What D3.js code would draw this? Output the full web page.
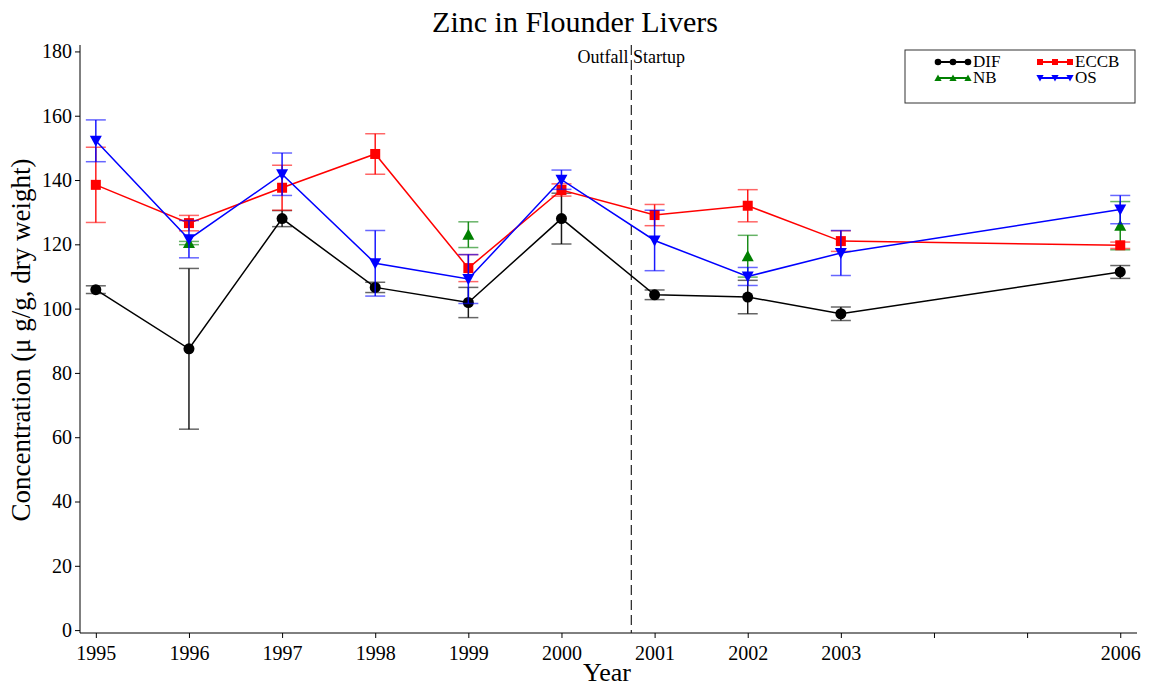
<!DOCTYPE html>
<html><head><meta charset="utf-8">
<script src="https://cdn.jsdelivr.net/npm/d3@7"></script>
<style>body{margin:0;background:#fff}svg{display:block}text{font-family:"Liberation Serif","Times New Roman",serif}</style>
</head><body>
<svg id="c" width="1151" height="688"></svg>
<script>
const years = [1995,1996,1997,1998,1999,2000,2001,2002,2003,2006];
const tickYears = [1995,1996,1997,1998,1999,2000,2001,2002,2003,2004,2005,2006];
const labelYears = [1995,1996,1997,1998,1999,2000,2001,2002,2003,2006];
const yTicks = [0,20,40,60,80,100,120,140,160,180];
const difVal = [105.9,87.5,128,106.6,101.9,128,104.3,103.6,98.4,111.4];
const difErr = [1.2,25,2.5,1.6,4.7,7.9,1.5,5.2,2.1,2];
const eccbVal = [138.5,126.6,137.6,148.1,112.6,136.9,129.1,132,121,119.7];
const eccbErr = [11.7,2.4,7,6.3,4.2,1.9,3.3,5,3.2,1];
const osVal = [152.2,121.6,141.8,114.1,109.2,140.1,121.2,110,117.3,130.8];
const osErr = [6.5,5.8,6.6,10.2,7.6,3,9.4,2.8,7,4.4];
const nbYears = [1996,1999,2002,2006];
const nbVal = [120.4,123,116.3,125.8];
const nbErr = [0.5,4,6.5,7.5];
const outfallYear = 2000.75;

const svg = d3.select("#c");
const x = d3.scaleLinear().domain([1994.83,2006.18]).range([80,1137]);
const y = d3.scaleLinear().domain([-0.9,182]).range([633,45]);

svg.append("text").attr("x",575).attr("y",32).attr("text-anchor","middle").attr("font-size",30).text("Zinc in Flounder Livers");

const xa = svg.append("g").attr("transform","translate(0,633)")
  .call(d3.axisBottom(x).tickValues(tickYears).tickSize(5).tickFormat(d=>labelYears.includes(d)?d:""));
const ya = svg.append("g").attr("transform","translate(80,0)")
  .call(d3.axisLeft(y).tickValues(yTicks).tickSize(5));
[xa,ya].forEach(a=>{a.selectAll("text").attr("font-size",20).attr("font-family","Liberation Serif").attr("fill","#000");
  a.selectAll("path,line").attr("stroke","#000");});
xa.selectAll("text").attr("dy","0.95em");
ya.select(".domain").attr("d","M0,45V633");
xa.select(".domain").attr("d","M80,0H1137");

svg.append("text").attr("x",607).attr("y",681).attr("text-anchor","middle").attr("font-size",26).text("Year");
svg.append("text").attr("transform","translate(30,340) rotate(-90)").attr("text-anchor","middle").attr("font-size",27).text("Concentration (μ g/g, dry weight)");

svg.append("line").attr("x1",x(outfallYear)).attr("x2",x(outfallYear)).attr("y1",45).attr("y2",633)
  .attr("stroke","#222").attr("stroke-dasharray","10,5").attr("stroke-width",1.2);
svg.append("text").attr("x",x(outfallYear)).attr("y",63).attr("text-anchor","middle").attr("font-size",18).text("Outfall Startup");

function series(xs, vals, errs, color, shape, line){
  const g = svg.append("g");
  const eg = g.append("g").attr("stroke",color).attr("stroke-opacity",0.6).attr("stroke-width",1.5);
  xs.forEach((yr,i)=>{
    const cx=x(yr), t=y(vals[i]+errs[i]), b=y(vals[i]-errs[i]);
    eg.append("line").attr("x1",cx).attr("x2",cx).attr("y1",t).attr("y2",b).attr("stroke-opacity",0.9);
    eg.append("line").attr("x1",cx-10).attr("x2",cx+10).attr("y1",t).attr("y2",t);
    eg.append("line").attr("x1",cx-10).attr("x2",cx+10).attr("y1",b).attr("y2",b);
  });
  if(line){
    g.append("path").datum(xs.map((yr,i)=>[yr,vals[i]]))
      .attr("d",d3.line().x(d=>x(d[0])).y(d=>y(d[1])))
      .attr("fill","none").attr("stroke",color).attr("stroke-width",1.5);
  }
  xs.forEach((yr,i)=>drawMarker(g,x(yr),y(vals[i]),color,shape));
}
function drawMarker(g,cx,cy,color,shape,s){
  s = s||1;
  if(shape==="circle") g.append("circle").attr("cx",cx).attr("cy",cy).attr("r",5.5*s).attr("fill",color);
  else if(shape==="square") g.append("rect").attr("x",cx-5*s).attr("y",cy-5*s).attr("width",10*s).attr("height",10*s).attr("fill",color);
  else if(shape==="up") g.append("path").attr("d",`M${cx},${cy-6*s}L${cx+6*s},${cy+5*s}L${cx-6*s},${cy+5*s}Z`).attr("fill",color);
  else if(shape==="down") g.append("path").attr("d",`M${cx},${cy+6*s}L${cx+6*s},${cy-5*s}L${cx-6*s},${cy-5*s}Z`).attr("fill",color);
}
series(years,difVal,difErr,"#000","circle",true);
series(nbYears,nbVal,nbErr,"#008000","up",false);
series(years,eccbVal,eccbErr,"#ff0000","square",true);
series(years,osVal,osErr,"#0000ff","down",true);

// legend
const lg = svg.append("g");
lg.append("rect").attr("x",905).attr("y",50).attr("width",230).attr("height",53).attr("fill","#fff").attr("stroke","#333").attr("stroke-width",1);
const legend = [["DIF","#000","circle",938,62],["ECCB","#ff0000","square",1040,62],["NB","#008000","up",938,78],["OS","#0000ff","down",1040,78]];
legend.forEach(([name,col,shape,lx,ly])=>{
  lg.append("line").attr("x1",lx).attr("x2",lx+30).attr("y1",ly).attr("y2",ly).attr("stroke",col).attr("stroke-width",2);
  [0,15,30].forEach(o=>drawMarker(lg,lx+o,ly,col,shape,0.6));
  lg.append("text").attr("x",lx+35).attr("y",ly+5).attr("font-size",17).text(name);
});
</script>
</body></html>
